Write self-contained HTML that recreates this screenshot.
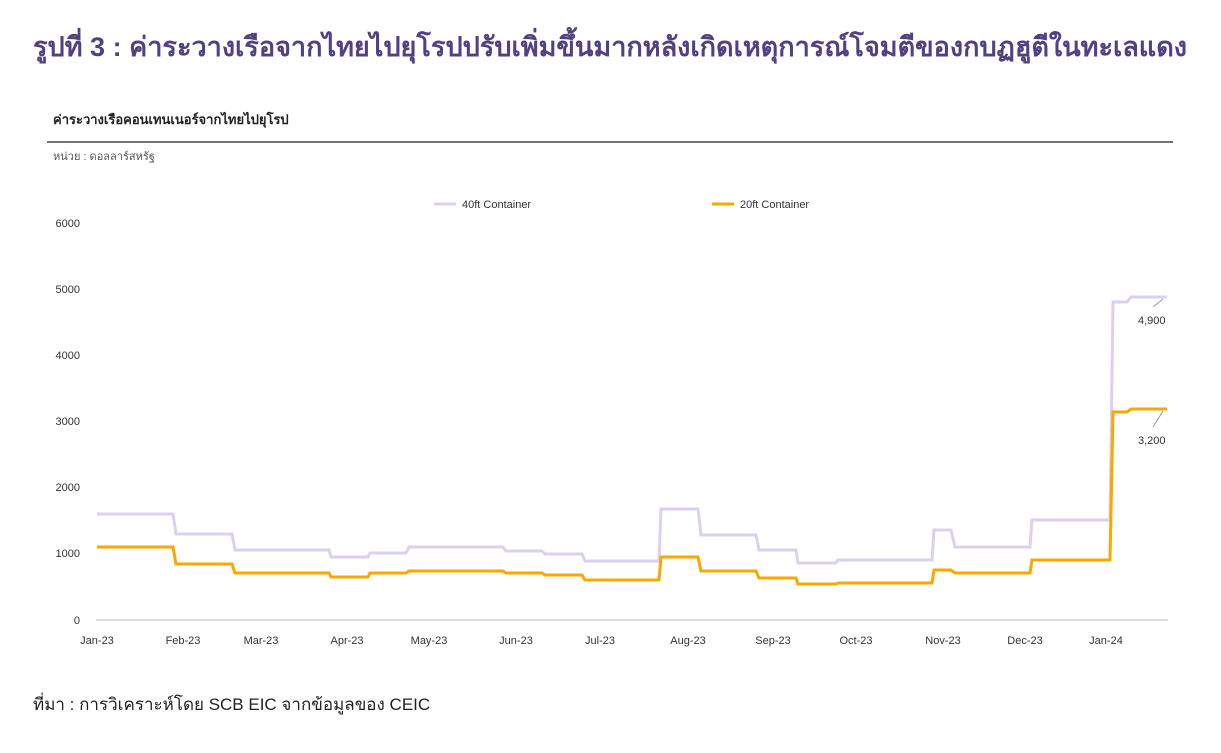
<!DOCTYPE html>
<html><head><meta charset="utf-8"><style>
body{margin:0;background:#fff;width:1221px;height:748px;overflow:hidden;font-family:"Liberation Sans","Noto Sans CJK SC",sans-serif}
</style></head><body>
<svg width="1221" height="748" xmlns="http://www.w3.org/2000/svg" font-family="Liberation Sans, Noto Sans CJK SC, sans-serif">
<text x="33" y="56" font-size="27" font-weight="bold" fill="#524085" textLength="1154" lengthAdjust="spacingAndGlyphs">รูปที่ 3 : ค่าระวางเรือจากไทยไปยุโรปปรับเพิ่มขึ้นมากหลังเกิดเหตุการณ์โจมตีของกบฏฮูตีในทะเลแดง</text>
<text x="53" y="124" font-size="13" font-weight="bold" fill="#222">ค่าระวางเรือคอนเทนเนอร์จากไทยไปยุโรป</text>
<line x1="47" y1="142" x2="1173" y2="142" stroke="#444" stroke-width="1.5"/>
<text x="53" y="160" font-size="11" fill="#555">หน่วย : ดอลลาร์สหรัฐ</text>
<line x1="434" y1="204" x2="456" y2="204" stroke="#dccff0" stroke-width="3"/>
<text x="462" y="208" font-size="11" fill="#333">40ft Container</text>
<line x1="712" y1="204" x2="734" y2="204" stroke="#f8a800" stroke-width="3"/>
<text x="740" y="208" font-size="11" fill="#333">20ft Container</text>
<g font-size="11" fill="#333" text-anchor="end">
<text x="80" y="227">6000</text><text x="80" y="293">5000</text><text x="80" y="359">4000</text><text x="80" y="425">3000</text><text x="80" y="491">2000</text><text x="80" y="557">1000</text><text x="80" y="624">0</text>
</g>
<line x1="96" y1="620" x2="1168" y2="620" stroke="#bbb"/>
<g font-size="11" fill="#333" text-anchor="middle">
<text x="97" y="644">Jan-23</text><text x="183" y="644">Feb-23</text><text x="261" y="644">Mar-23</text><text x="347" y="644">Apr-23</text><text x="429" y="644">May-23</text><text x="516" y="644">Jun-23</text><text x="600" y="644">Jul-23</text><text x="688" y="644">Aug-23</text><text x="773" y="644">Sep-23</text><text x="856" y="644">Oct-23</text><text x="943" y="644">Nov-23</text><text x="1025" y="644">Dec-23</text><text x="1106" y="644">Jan-24</text>
</g>
<polyline fill="none" stroke="#dccff0" stroke-width="3" points="97,514 173,514 176,534 232,534 235,550 329,550 331,557 368,557 370,553 406,553 409,547 503,547 506,551 542,551 545,554 582,554 585,561 659,561 661,509 698,509 701,535 756,535 759,550 796,550 798,563 836,563 838,560 932,560 934,530 951,530 955,547 1030,547 1032,520 1110,520 1113,302 1127,302 1131,297 1167,297"/>
<polyline fill="none" stroke="#f8a800" stroke-width="3" points="97,547 173,547 176,564 232,564 235,573 329,573 331,577 368,577 370,573 406,573 409,571 503,571 506,573 542,573 545,575 582,575 585,580 659,580 661,557 698,557 701,571 756,571 759,578 796,578 798,584 836,584 838,583 932,583 934,570 951,570 955,573 1030,573 1032,560 1110,560 1113,412 1127,412 1131,409 1167,409"/>
<line x1="1153" y1="307" x2="1163" y2="299" stroke="#999"/>
<line x1="1153" y1="427" x2="1163" y2="411" stroke="#999"/>
<text x="1138" y="324" font-size="11" fill="#333">4,900</text>
<text x="1138" y="444" font-size="11" fill="#333">3,200</text>
<text x="33" y="710" font-size="17" fill="#222">ที่มา : การวิเคราะห์โดย SCB EIC จากข้อมูลของ CEIC</text>
</svg>
</body></html>
